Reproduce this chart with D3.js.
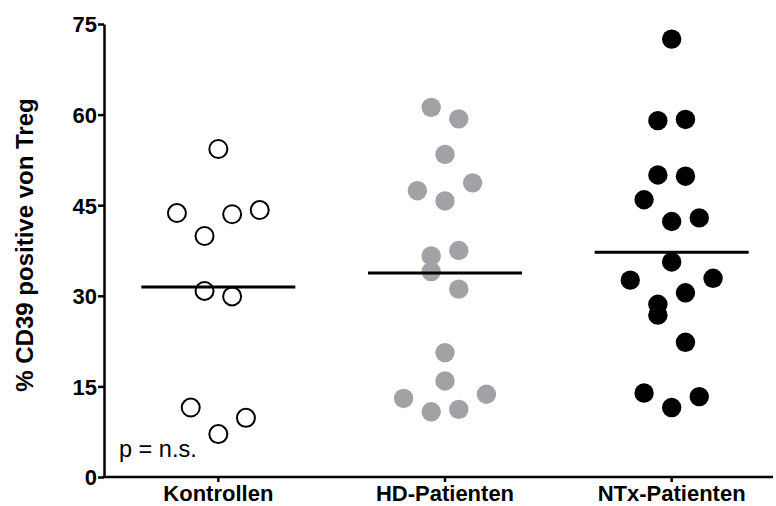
<!DOCTYPE html>
<html>
<head>
<meta charset="utf-8">
<script src="https://cdn.jsdelivr.net/npm/d3@7"></script>
<style>
  body { margin: 0; background: white; }
  svg { display: block; font-family: "Liberation Sans", Arial, sans-serif; }
</style>
</head>
<body>
<svg id="chart" width="776" height="506"></svg>
<script>
// Groups on the x axis.
const categories = ["Kontrollen", "HD-Patienten", "NTx-Patienten"];

// % CD39 positive von Treg (listed row by row, left to right).
const kontrollen = [54.3, 43.7, 39.9, 43.5, 44.2, 30.8, 29.9, 11.5, 7.1, 9.8];
const hdPatienten = [61.2, 59.3, 53.4, 47.4, 45.7, 48.7, 36.6, 37.5, 34.0, 31.1, 20.6, 15.9, 13.0, 10.8, 11.2, 13.7];
const ntxPatienten = [72.5, 59.0, 59.2, 50.0, 49.8, 45.9, 42.3, 42.9, 35.6, 32.6, 28.6, 30.5, 32.9, 26.8, 22.3, 13.9, 11.5, 13.3];

const yTicks = [0, 15, 30, 45, 60, 75];
const yTitle = "% CD39 positive von Treg";
const pText = "p = n.s.";


const svg = d3.select("#chart");

const x = d3.scaleBand()
  .domain(categories)
  .range([105, 785])
  .paddingInner(0)
  .paddingOuter(0);

const y = d3.scaleLinear()
  .domain([0, 75])
  .range([477, 24]);

// Marker style per group.
const groups = [
  {name: categories[0], values: kontrollen, fill: "white", stroke: "black", sw: 2, r: 9},
  {name: categories[1], values: hdPatienten, fill: "#a2a2a6", stroke: "none", sw: 0, r: 9.7},
  {name: categories[2], values: ntxPatienten, fill: "black", stroke: "none", sw: 0, r: 9.7}
];


// Scatter-dot layout: points within one bin height share a row and are spread
// symmetrically round the group centre, in the order they are listed.
const binHeight = 4.6;
const spread = 13.8;

function layout(values){
  let order = values.map((v,i)=>({v:v, i:i})).sort((a,b)=>a.v-b.v);
  let rows = [];
  let row;
  order.forEach(d=>{
    if(!row || d.v - row.start > binHeight){
      row = {start: d.v, items: []};
      rows.push(row);
    } // if
    row.items.push(d);
  });

  let out = [];
  rows.forEach(r=>{
    r.items.sort((a,b)=>a.i-b.i);
    let n = r.items.length;
    r.items.forEach((d,k)=>{
      out.push({v: d.v, dx: (k - (n-1)/2)*2*spread});
    });
  });
  return out;
} // layout


// Axes.
const yAxis = svg.append("g")
  .attr("transform", `translate(${x.range()[0] - 1},0)`)
  .call(d3.axisLeft(y).tickValues(yTicks).tickSize(6).tickSizeOuter(0).tickPadding(1));

const xAxis = svg.append("g")
  .attr("transform", `translate(0,${y(0)})`)
  .call(d3.axisBottom(x).tickSize(5).tickSizeOuter(0).tickPadding(3));

xAxis.select(".domain").attr("d", `M${x.range()[0] - 2.5},0H773`);

[yAxis, xAxis].forEach(a=>{
  a.select(".domain").attr("stroke", "black").attr("stroke-width", 2.5);
  a.selectAll(".tick line").attr("stroke", "black").attr("stroke-width", 2.5);
  a.selectAll(".tick text")
    .attr("fill", "black")
    .style("font-family", "'Liberation Sans', Arial, sans-serif")
    .style("font-size", "22px")
    .style("font-weight", "bold");
});

yAxis.selectAll(".tick text").attr("dy", "0.36em");


// Points.
groups.forEach(g=>{
  let cx = x(g.name) + x.bandwidth()/2;

  svg.append("g")
    .selectAll("circle")
    .data(layout(g.values))
    .enter()
    .append("circle")
      .attr("cx", d=>cx + d.dx)
      .attr("cy", d=>y(d.v))
      .attr("r", g.r)
      .attr("fill", g.fill)
      .attr("stroke", g.stroke)
      .attr("stroke-width", g.sw);
});

// Mean lines on top of the points.
svg.append("g")
  .selectAll("line")
  .data(groups)
  .enter()
  .append("line")
    .attr("x1", d=>x(d.name) + x.bandwidth()/2 - 77)
    .attr("x2", d=>x(d.name) + x.bandwidth()/2 + 77)
    .attr("y1", d=>y(d3.mean(d.values)))
    .attr("y2", d=>y(d3.mean(d.values)))
    .attr("stroke", "black")
    .attr("stroke-width", 3);


// Axis title.
svg.append("text")
  .attr("transform", "translate(33,245) rotate(-90)")
  .attr("text-anchor", "middle")
  .style("font-size", "24px")
  .style("font-weight", "bold")
  .text(yTitle);

// Significance note.
svg.append("text")
  .attr("x", 119)
  .attr("y", 457)
  .style("font-size", "23.5px")
  .text(pText);
</script>
</body>
</html>
